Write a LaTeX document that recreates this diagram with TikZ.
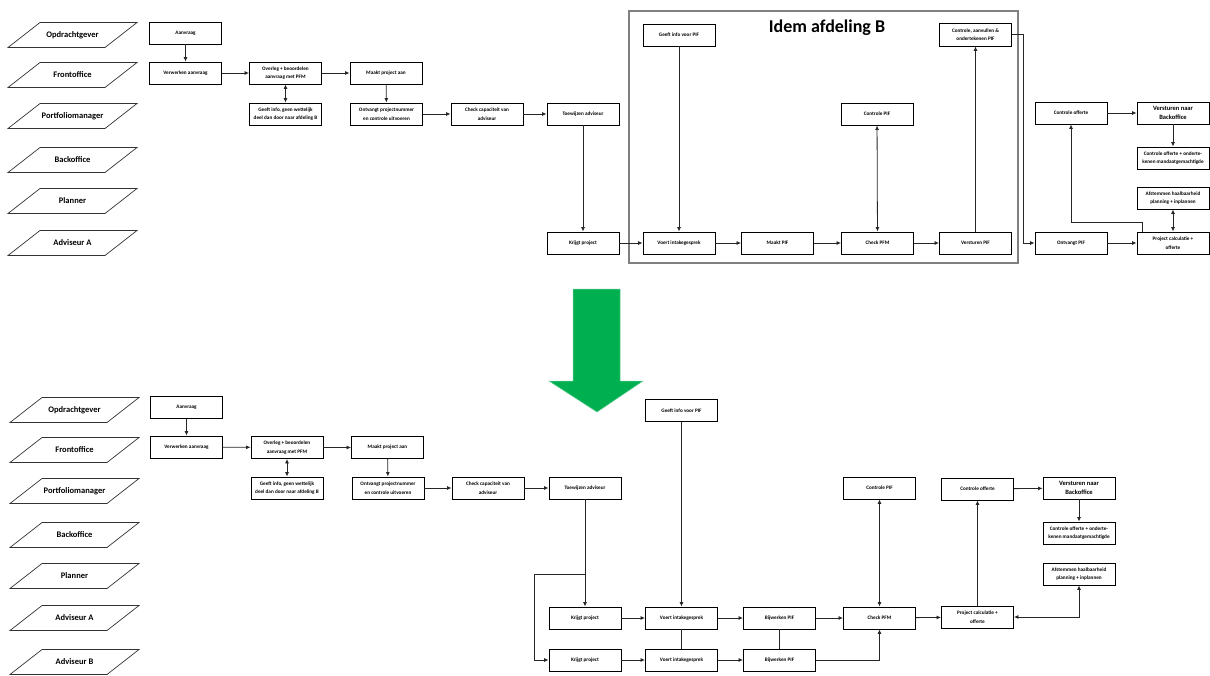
\documentclass[tikz,border=0pt]{standalone}
\usepackage{fontspec}
\setmainfont{Carlito}
\usetikzlibrary{arrows.meta}
\definecolor{offgreen}{RGB}{0,176,80}
\definecolor{boxgray}{RGB}{128,128,128}
\tikzset{
  box/.style={draw=black, line width=0.9pt, minimum width=72pt, minimum height=22pt,
    inner sep=1pt, align=center, font=\fontsize{5.2}{8.5}\selectfont\bfseries},
  lanetxt/.style={inner sep=0pt, font=\fontsize{8.5}{10}\selectfont\bfseries},
  lanepoly/.style={draw=black!80, line width=0.7pt},
  arr/.style={draw=black!85, line width=0.8pt, -{Latex[length=4.5pt,width=4pt]}},
  dbl/.style={draw=black!85, line width=0.8pt, {Latex[length=4.5pt,width=4pt]}-{Latex[length=4.5pt,width=4pt]}},
  ln/.style={draw=black!85, line width=0.8pt}
}
\begin{document}
\begin{tikzpicture}[x=1pt,y=-1pt]
\useasboundingbox (0,0) rectangle (1210,675);

% ---------- lanes, top ----------
\foreach \n/\t/\y in {1/Opdrachtgever/35,2/Frontoffice/75,3/Portfoliomanager/116,4/Backoffice/160,5/Planner/201,6/Adviseur A/243}{
  \draw[lanepoly] (72.5-64.5,\y+12.5) -- (72.5+32.5,\y+12.5) -- (72.5+64.5,\y-12.5) -- (72.5-32.5,\y-12.5) -- cycle;
  \node[lanetxt] (lt\n) at (72.5,\y) {\t};
}
% ---------- lanes, bottom ----------
\foreach \n/\t/\y in {1/Opdrachtgever/410,2/Frontoffice/450,3/Portfoliomanager/491,4/Backoffice/535,5/Planner/576,6/Adviseur A/618,7/Adviseur B/662}{
  \draw[lanepoly] (74.5-64.5,\y+12.5) -- (74.5+32.5,\y+12.5) -- (74.5+64.5,\y-12.5) -- (74.5-32.5,\y-12.5) -- cycle;
  \node[lanetxt] (lb\n) at (74.5,\y) {\t};
}

% ---------- top diagram ----------
\draw[boxgray, line width=2.8pt] (629,11) rectangle (1018,263);
\node[font=\fontsize{18}{20}\selectfont\bfseries, inner sep=0pt] (title) at (827,28) {Idem afdeling B};

\node[box] (a1) at (185.5,33) {Aanvraag};
\node[box] (v1) at (185.5,73) {Verwerken aanvraag};
\node[box] (o1) at (285.5,73) {Overleg + beoordelen\\aanvraag met PFM};
\node[box] (g1) at (285.5,114) {Geeft info, geen wettelijk\\deel dan door naar afdeling B};
\node[box] (m1) at (386,73) {Maakt project aan};
\node[box] (p1) at (386.5,114) {Ontvangt projectnummer\\en controle uitvoeren};
\node[box] (c1) at (487,114) {Check capaciteit van\\adviseur};
\node[box] (t1) at (583,114) {Toewijzen adviseur};
\node[box] (k1) at (583,243) {Krijgt project};
\node[box] (gi1) at (679,35) {Geeft info voor PIF};
\node[box] (vi1) at (679,243) {Voert intakegesprek};
\node[box] (mp1) at (777.5,243) {Maakt PIF};
\node[box] (cp1) at (877.5,243) {Check PFM};
\node[box] (cpif1) at (877,114) {Controle PIF};
\node[box] (vp1) at (975.5,243) {Versturen PIF};
\node[box, minimum height=23pt] (caa1) at (975.5,34.5) {Controle, aanvullen \&\\ondertekenen PIF};
\node[box] (co1) at (1071,113) {Controle offerte};
\node[box, font=\fontsize{6.5}{9}\selectfont\bfseries] (vb1) at (1173,113) {Versturen naar\\Backoffice};
\node[box] (cm1) at (1173,158) {Controle offerte + onderte-\\kenen mandaatgemachtigde};
\node[box] (af1) at (1173,198) {Afstemmen haalbaarheid\\planning + inplannen};
\node[box] (op1) at (1071,243) {Ontvangt PIF};
\node[box] (pc1) at (1173,243) {Project calculatie +\\offerte};

\draw[arr] (a1) -- (v1);
\draw[arr] (v1) -- (o1);
\draw[dbl] (o1) -- (g1);
\draw[arr] (o1) -- (m1);
\draw[arr] (m1) -- (p1);
\draw[arr] (p1) -- (c1);
\draw[arr] (c1) -- (t1);
\draw[arr] (t1) -- (k1);
\draw[arr] (k1) -- (vi1);
\draw[arr] (gi1) -- (vi1);
\draw[arr] (vi1) -- (mp1);
\draw[arr] (mp1) -- (cp1);
\draw[dbl] (cp1) -- (cpif1);
\draw[arr] (cp1) -- (vp1);
\draw[arr] (vp1) -- (caa1);
\coordinate (caabend) at (1023,34.5);
\draw[arr] (caa1.east) -- (caabend) |- (op1.west);
\draw[arr] (op1) -- (pc1);
\coordinate (pcbend) at (1142,222);
\draw[arr] (pc1.north -| pcbend) -- (pcbend) -| (co1.south);
\draw[dbl] (pc1) -- (af1);
\draw[arr] (co1) -- (vb1);
\draw[arr] (vb1) -- (cm1);

% ---------- green arrow ----------
\filldraw[fill=offgreen, draw=offgreen!60!white, line width=0.5pt]
  (573,289) -- (620,289) -- (620,381) -- (643,381) -- (597,412) -- (549,381) -- (573,381) -- cycle;

% ---------- bottom diagram ----------
\node[box] (a2) at (186.5,407.5) {Aanvraag};
\node[box] (v2) at (186.5,447) {Verwerken aanvraag};
\node[box] (o2) at (287,447.5) {Overleg + beoordelen\\aanvraag met PFM};
\node[box] (g2) at (287,488) {Geeft info, geen wettelijk\\deel dan door naar afdeling B};
\node[box] (m2) at (387.5,447.5) {Maakt project aan};
\node[box] (p2) at (388,488) {Ontvangt projectnummer\\en controle uitvoeren};
\node[box] (c2) at (488,488) {Check capaciteit van\\adviseur};
\node[box] (t2) at (585,488) {Toewijzen adviseur};
\node[box] (k2a) at (585,618) {Krijgt project};
\node[box] (k2b) at (585,660) {Krijgt project};
\node[box] (gi2) at (681.5,410.5) {Geeft info voor PIF};
\node[box] (vi2a) at (681.5,618) {Voert intakegesprek};
\node[box] (vi2b) at (681.5,660) {Voert intakegesprek};
\node[box] (bw2a) at (779.5,618) {Bijwerken PIF};
\node[box] (bw2b) at (779.5,660) {Bijwerken PIF};
\node[box] (cp2) at (879.5,618) {Check PFM};
\node[box] (cpif2) at (879.5,488) {Controle PIF};
\node[box] (co2) at (977.5,489) {Controle offerte};
\node[box, font=\fontsize{6.5}{9}\selectfont\bfseries] (vb2) at (1079,488) {Versturen naar\\Backoffice};
\node[box] (cm2) at (1079,533) {Controle offerte + onderte-\\kenen mandaatgemachtigde};
\node[box] (af2) at (1079,574) {Afstemmen haalbaarheid\\planning + inplannen};
\node[box] (pc2) at (977.5,617) {Project calculatie +\\offerte};

\draw[arr] (a2) -- (v2);
\draw[arr] (v2) -- (o2);
\draw[dbl] (o2) -- (g2);
\draw[arr] (o2) -- (m2);
\draw[arr] (m2) -- (p2);
\draw[arr] (p2) -- (c2);
\draw[arr] (c2) -- (t2);
\draw[arr] (t2) -- (k2a);
\coordinate (brL) at (534,574);
\draw[arr] (t2.south |- brL) -- (brL) |- (k2b.west);
\draw[arr] (k2a) -- (vi2a);
\draw[arr] (k2b) -- (vi2b);
\draw[arr] (gi2) -- (vi2a);
\draw[ln] (vi2a) -- (vi2b);
\draw[arr] (vi2a) -- (bw2a);
\draw[arr] (vi2b) -- (bw2b);
\draw[ln] (bw2a) -- (bw2b);
\draw[arr] (bw2a) -- (cp2);
\draw[arr] (bw2b.east) -| (cp2.south);
\draw[dbl] (cp2) -- (cpif2);
\draw[arr] (cp2) -- (pc2);
\draw[arr] (pc2) -- (co2);
\draw[arr] (co2) -- (vb2);
\draw[arr] (vb2) -- (cm2);
\draw[dbl] (af2.south) |- (pc2.east);
\end{tikzpicture}
\end{document}
